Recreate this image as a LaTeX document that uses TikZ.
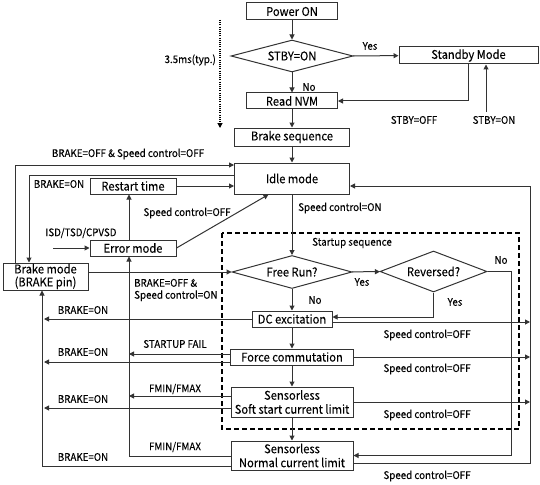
\documentclass[tikz,border=0pt]{standalone}
\usepackage{fontspec}
\setmainfont{Noto Sans CJK JP}[FakeStretch=0.93,FakeBold=0.12]
\usetikzlibrary{shapes.geometric,arrows.meta}
\definecolor{linegray}{HTML}{333333}

\begin{document}
\begin{tikzpicture}[x=1pt,y=-1pt]
    % Define styles
    \tikzstyle{box} = [rectangle, draw=linegray, line width=1pt, text centered, align=center, inner sep=0pt, font=\fontsize{12}{14}\selectfont]
    \tikzstyle{decision} = [diamond, draw=linegray, line width=1pt, text centered, inner sep=0pt, font=\fontsize{12}{14}\selectfont]
    \tikzstyle{note} = [inner sep=0pt, font=\fontsize{10.5}{12}\selectfont]
    \tikzstyle{arrow} = [line width=1pt, draw=linegray, -{Triangle[length=5pt,width=5pt]}]
    \useasboundingbox (0,0) rectangle (540,484);

    % Nodes
    \node (power) [box, minimum width=91pt, minimum height=17pt] at (292,11.5) {Power ON};
    \node (stby) [decision, minimum width=122pt, minimum height=32pt, aspect=3.8] at (292,56) {STBY=ON};
    \node (standby) [box, minimum width=139pt, minimum height=17pt] at (468.5,55.5) {Standby Mode};
    \node (nvm) [box, minimum width=91pt, minimum height=16pt] at (292,101) {Read NVM};
    \node (brakeseq) [box, minimum width=115pt, minimum height=18pt] at (292,137) {Brake sequence};
    \node (idle) [box, minimum width=115pt, minimum height=31pt] at (292,178.5) {Idle mode};
    \node (restart) [box, minimum width=86pt, minimum height=16pt] at (133,186) {Restart time};
    \node (error) [box, minimum width=86pt, minimum height=16pt] at (133,248) {Error mode};
    \node (brake) [box, minimum width=85pt, minimum height=27pt, font=\fontsize{12}{13}\selectfont] at (45.5,276.5) {Brake mode\\(BRAKE pin)};
    \node (freerun) [decision, minimum width=120pt, minimum height=33pt, aspect=3.6] at (292,272) {Free Run?};
    \node (reversed) [decision, minimum width=107pt, minimum height=41pt, aspect=2.6] at (433.5,271.5) {Reversed?};
    \node (dc) [box, minimum width=80pt, minimum height=16pt] at (292,319) {DC excitation};
    \node (force) [box, minimum width=123pt, minimum height=16pt] at (292,357) {Force commutation};
    \node (soft) [box, minimum width=122pt, minimum height=30pt] at (292,402) {Sensorless\\Soft start current limit};
    \node (normal) [box, minimum width=122pt, minimum height=29pt] at (292,455.5) {Sensorless\\Normal current limit};

    % Startup sequence frame
    \draw [draw=black, line width=1.4pt, dash pattern=on 5pt off 3pt] (222,233) rectangle (519,429);
    \node (lstart) [note, anchor=west] at (312,243) {Startup sequence};

    % Helper points
    \coordinate (t0) at (220,20);
    \coordinate (t1) at (220,128);
    \coordinate (stbyon) at (486,112);
    \coordinate (isd) at (53,248);
    \coordinate (noln) at (511,455.5);
    \coordinate (offln) at (530,186);
    \coordinate (errln) at ([xshift=-4pt]error.south);
    \coordinate (brkln) at ([xshift=-3.5pt]brake.south);

    % Arrows
    \draw [arrow] (power) -- (stby);
    \draw [arrow] (stby) -- (nvm);
    \draw [arrow] (stby) -- (standby);
    \draw [arrow] (standby.south) |- (nvm.east);
    \draw [arrow] (stbyon) -- (stbyon |- standby.south);
    \draw [arrow] (nvm) -- (brakeseq);
    \draw [arrow] (brakeseq) -- (idle);
    \draw [arrow, draw=black, line width=1.1pt, dash pattern=on 1.1pt off 1.1pt] (t0) -- (t1);

    \draw [arrow] ([yshift=3.5pt]idle.west) -| ([xshift=-16.5pt]brake.north);
    \draw [arrow] ([xshift=-30.5pt]brake.north) |- ([yshift=13.5pt]idle.west);
    \draw [arrow] (restart.east) -- (restart.east -| idle.west);
    \draw [arrow] ([xshift=-4pt]error.north) -- ([xshift=-4pt]restart.south);
    \draw [arrow] (isd) -- (error.west);
    \draw [arrow] (error.east) -- ([xshift=-23.5pt]idle.south);
    \draw [arrow] (idle) -- (freerun);
    \draw [arrow] ([yshift=4.5pt]brake.east) -- (freerun.west);

    \draw [arrow] (freerun) -- (reversed);
    \draw [arrow] (freerun) -- (dc);
    \draw [arrow] (reversed.south) |- ([yshift=2pt]dc.east);
    \draw [arrow] (reversed.east) -| (noln) -- (normal.east);
    \draw [arrow] (dc) -- (force);
    \draw [arrow] (force) -- (soft);
    \draw [arrow] (soft) -- (normal);

    % Speed control=OFF returns
    \draw [arrow] ([yshift=-3pt]dc.east) -- ([yshift=-3pt]dc.east -| offln);
    \draw [arrow] (force.east) -- (force.east -| offln);
    \draw [arrow] (soft.east) -- (soft.east -| offln);
    \draw [arrow] ([yshift=-7.5pt]normal.east) -| (offln) |- ([yshift=-7.5pt]idle.east);

    % Error and brake returns
    \draw [arrow, shorten >=2pt] (dc.west) -- (dc.west -| brkln);
    \draw [arrow] ([yshift=3pt]force.west) -- ([yshift=3pt]force.west -| errln);
    \draw [arrow, shorten >=2pt] ([yshift=-5pt]force.west) -- ([yshift=-5pt]force.west -| brkln);
    \draw [arrow] ([yshift=6pt]soft.west) -- ([yshift=6pt]soft.west -| errln);
    \draw [arrow, shorten >=2pt] ([yshift=-6pt]soft.west) -- ([yshift=-6pt]soft.west -| brkln);
    \draw [arrow] ([yshift=-0.5pt]normal.west) -| (errln);
    \draw [arrow] ([yshift=-10.5pt]normal.west) -| (brkln);

    % Labels
    \node (l35) [note, anchor=east] at (216,60) {3.5ms(typ.)};
    \node (lyes1) [note] at (370,46) {Yes};
    \node (lno1) [note] at (309,87) {No};
    \node (loff) [note] at (414,120) {STBY=OFF};
    \node (lon) [note] at (494,120) {STBY=ON};
    \node (lboff) [note] at (128,154) {BRAKE=OFF \& Speed control=OFF};
    \node (lbon1) [note] at (59,184) {BRAKE=ON};
    \node (lsc1) [note] at (187,213) {Speed control=OFF};
    \node (lisd) [note] at (81,233) {ISD/TSD/CPVSD};
    \node (lscon) [note, anchor=west] at (298,208) {Speed control=ON};
    \node (lbsc) [note, anchor=west, align=left] at (134,290) {BRAKE=OFF \&\\Speed control=ON};
    \node (lyes2) [note] at (362,282) {Yes};
    \node (lno2) [note] at (501,260) {No};
    \node (lno3) [note] at (315,300) {No};
    \node (lyes3) [note] at (455,302) {Yes};
    \node (lbon2) [note] at (83,310) {BRAKE=ON};
    \node (lsc2) [note] at (427,335) {Speed control=OFF};
    \node (lfail) [note] at (175,344) {STARTUP FAIL};
    \node (lbon3) [note] at (83,352) {BRAKE=ON};
    \node (lsc3) [note] at (427,369) {Speed control=OFF};
    \node (lfm1) [note] at (175,389) {FMIN/FMAX};
    \node (lbon4) [note] at (83,399) {BRAKE=ON};
    \node (lsc4) [note] at (427,415) {Speed control=OFF};
    \node (lfm2) [note] at (175,447) {FMIN/FMAX};
    \node (lbon5) [note] at (83,457) {BRAKE=ON};
    \node (lsc5) [note] at (427,476) {Speed control=OFF};
\end{tikzpicture}
\end{document}
